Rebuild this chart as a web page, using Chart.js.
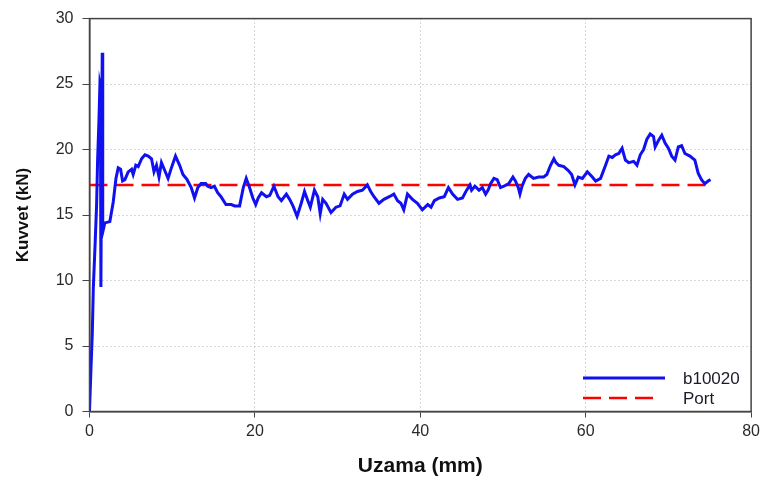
<!DOCTYPE html>
<html>
<head>
<meta charset="utf-8">
<script src="https://cdn.jsdelivr.net/npm/chart.js@4"></script>
<style>
  html, body { margin: 0; padding: 0; background: #fff; }
</style>
</head>
<body>
<canvas id="myChart" width="764" height="481"></canvas>
<script>
// elongation (mm) / force (kN) readings for sample b10020
const uzama = [
    0, 0.18, 0.34, 0.46, 0.66, 0.86, 0.98, 1.14, 1.26, 1.32, 1.38, 1.46, 1.54, 1.6, 1.86, 2.46, 2.87,
    3.2, 3.47, 3.76, 4.0, 4.28, 4.68, 5.09, 5.28, 5.6, 5.89, 6.3, 6.7, 7.1, 7.5,
    7.8, 8.1, 8.4, 8.7, 9.1, 9.5, 9.9, 10.4, 10.9, 11.3, 11.8, 12.3, 12.7, 13.1,
    13.5, 14.05, 14.3, 14.7, 15.1, 15.5, 15.9, 16.5, 17.15, 17.55, 18.15, 18.6, 18.95, 19.35, 19.75,
    20.1, 20.4, 20.8, 21.4, 21.8, 22.3, 22.8, 23.2, 23.8, 24.2, 24.6, 25.1, 25.6, 26.0, 26.4,
    26.7, 27.2, 27.6, 27.9, 28.2, 28.6, 29.2, 29.8, 30.3, 30.8, 31.2, 31.8, 32.4, 33.0, 33.6,
    34.0, 34.4, 35.0, 35.6, 36.25, 36.8, 37.25, 37.65, 38.0, 38.45, 39.05, 39.65, 40.25, 40.9, 41.3,
    41.7, 42.3, 42.9, 43.4, 43.9, 44.5, 45.1, 45.6, 46.0, 46.2, 46.6, 47.1, 47.5, 47.9, 48.2,
    48.5, 48.9, 49.3, 49.7, 50.1, 50.7, 51.2, 51.5, 51.85, 52.05, 52.3, 52.7, 53.1, 53.7, 54.3,
    54.9, 55.3, 55.75, 56.15, 56.4, 56.75, 57.35, 57.9, 58.3, 58.7, 59.1, 59.6, 60.2, 60.8, 61.2,
    61.8, 62.4, 62.8, 63.2, 63.6, 64.0, 64.4, 64.8, 65.2, 65.8, 66.2, 66.6, 67.0, 67.4, 67.8,
    68.2, 68.4, 68.8, 69.2, 69.6, 70.0, 70.4, 70.8, 71.2, 71.6, 72.0, 72.6, 73.2, 73.6, 74.0,
    74.4, 74.8, 75.1
];
const kuvvet = [
    0, 3.3, 6.0, 9.4, 12.5, 15.8, 19.2, 22.2, 25.0, 24.8, 9.5, 20, 27.4, 13.7, 14.4, 14.5, 16.0,
    17.8, 18.6, 18.5, 17.6, 17.7, 18.3, 18.5, 18.1, 18.8, 18.7, 19.3, 19.6, 19.5, 19.3,
    18.3, 18.8, 17.9, 19.0, 18.4, 17.8, 18.6, 19.5, 18.8, 18.1, 17.7, 17.1, 16.3, 17.1,
    17.4, 17.4, 17.2, 17.1, 17.2, 16.7, 16.4, 15.8, 15.8, 15.7, 15.7, 17.1, 17.8, 17.1, 16.3,
    15.8, 16.3, 16.7, 16.4, 16.5, 17.2, 16.4, 16.1, 16.6, 16.2, 15.7, 14.9, 15.9, 16.8, 16.1,
    15.6, 16.9, 16.4, 15.1, 16.2, 15.9, 15.2, 15.6, 15.7, 16.6, 16.2, 16.6, 16.8, 16.9, 17.3,
    16.8, 16.4, 15.9, 16.2, 16.4, 16.6, 16.1, 15.9, 15.4, 16.6, 16.2, 15.9, 15.4, 15.8, 15.6,
    16.1, 16.3, 16.4, 17.1, 16.6, 16.2, 16.3, 16.9, 17.3, 16.9, 17.2, 16.9, 17.1, 16.6, 16.9,
    17.4, 17.8, 17.7, 17.1, 17.2, 17.4, 17.9, 17.6, 17.1, 16.6, 17.2, 17.8, 18.1, 17.8, 17.9,
    17.9, 18.1, 18.8, 19.3, 19.0, 18.8, 18.7, 18.4, 18.1, 17.3, 17.9, 17.8, 18.3, 17.9, 17.6,
    17.8, 18.8, 19.5, 19.4, 19.6, 19.7, 20.1, 19.2, 19.0, 19.1, 18.8, 19.6, 20.0, 20.8, 21.2,
    21.0, 20.2, 20.7, 21.1, 20.5, 20.1, 19.5, 19.2, 20.2, 20.3, 19.7, 19.5, 19.2, 18.2, 17.7,
    17.4, 17.6, 17.7
];

// reference "Port" level
const portX = [0, 75];
const portY = [17.3, 17.3];

const xTicks = [0, 20, 40, 60, 80];
const yTicks = [0, 5, 10, 15, 20, 25, 30];

const toPoints = (xs, ys) => xs.map((x, i) => ({ x: x, y: ys[i] }));

const fontFam = "'Liberation Sans', Arial, sans-serif";

// outer frame around the plot area
const framePlugin = {
    id: "frame",
    afterDatasetsDraw(chart) {
        const { ctx, chartArea } = chart;
        ctx.save();
        ctx.strokeStyle = "#444";
        ctx.lineWidth = 1.5;
        ctx.strokeRect(chartArea.left, chartArea.top, chartArea.right - chartArea.left, chartArea.bottom - chartArea.top);
        ctx.restore();
    }
};

// legend in the lower right corner of the plot
const boxLegend = {
    id: "boxLegend",
    afterDraw(chart) {
        const { ctx } = chart;
        const rows = [
            { ds: chart.data.datasets[0], y: 378, len: 82 },
            { ds: chart.data.datasets[1], y: 398, len: 74 }
        ];
        ctx.save();
        rows.forEach((r) => {
            ctx.beginPath();
            ctx.strokeStyle = r.ds.borderColor;
            ctx.lineWidth = r.ds.borderWidth;
            ctx.setLineDash(r.ds.borderDash || []);
            ctx.moveTo(583, r.y);
            ctx.lineTo(583 + r.len, r.y);
            ctx.stroke();
            ctx.setLineDash([]);
            ctx.fillStyle = "#1a1a2a";
            ctx.font = "17px " + fontFam;
            ctx.textBaseline = "middle";
            ctx.fillText(r.ds.label, 683, r.y + 1);
        });
        ctx.restore();
    }
};

const ctx = document.querySelector("#myChart");

new Chart(ctx, {
    type: "line",
    data: {
        datasets: [
            {
                label: "b10020",
                data: toPoints(uzama, kuvvet),
                borderColor: "#1010f0",
                borderWidth: 3,
                pointRadius: 0,
                tension: 0,
            },
            {
                label: "Port",
                data: toPoints(portX, portY),
                borderColor: "#ff0000",
                borderWidth: 2.4,
                borderDash: [18, 8],
                pointRadius: 0,
                tension: 0,
            },
        ],
    },
    options: {
        responsive: false,
        animation: false,
        devicePixelRatio: 1,
        layout: { padding: { top: 13, right: 11, left: 0, bottom: 0 } },
        plugins: {
            legend: { display: false },
            tooltip: { enabled: false },
        },
        scales: {
            x: {
                type: "linear",
                min: 0,
                max: 80,
                afterBuildTicks: (scale) => { scale.ticks = xTicks.map((v) => ({ value: v })); },
                afterFit: (scale) => { scale.height = 69.5; },
                ticks: {
                    autoSkip: false,
                    maxRotation: 0,
                    color: "#2a2a2a",
                    font: { family: fontFam, size: 16 },
                    padding: 4,
                },
                grid: {
                    color: "#b0b0b0",
                    tickColor: "#444",
                    tickLength: 6,
                    lineWidth: 1,
                },
                border: { color: "#444", width: 1.5, dash: [1, 3] },
                title: {
                    display: true,
                    text: "Uzama (mm)",
                    color: "#111",
                    font: { family: fontFam, size: 21, weight: "bold" },
                    padding: { top: 0, bottom: 2 },
                },
            },
            y: {
                type: "linear",
                min: 0,
                max: 30,
                afterBuildTicks: (scale) => { scale.ticks = yTicks.map((v) => ({ value: v })); },
                afterFit: (scale) => { scale.width = 89.5; },
                ticks: {
                    autoSkip: false,
                    color: "#2a2a2a",
                    font: { family: fontFam, size: 16 },
                    padding: 9,
                },
                grid: {
                    color: "#b0b0b0",
                    tickColor: "#444",
                    tickLength: 7,
                    lineWidth: 1,
                },
                border: { color: "#444", width: 1.5, dash: [1, 3] },
                title: {
                    display: true,
                    text: "Kuvvet (kN)",
                    color: "#111",
                    font: { family: fontFam, size: 17, weight: "bold" },
                    padding: { top: 13, bottom: 0 },
                },
            },
        },
    },
    plugins: [framePlugin, boxLegend],
});
</script>
</body>
</html>
